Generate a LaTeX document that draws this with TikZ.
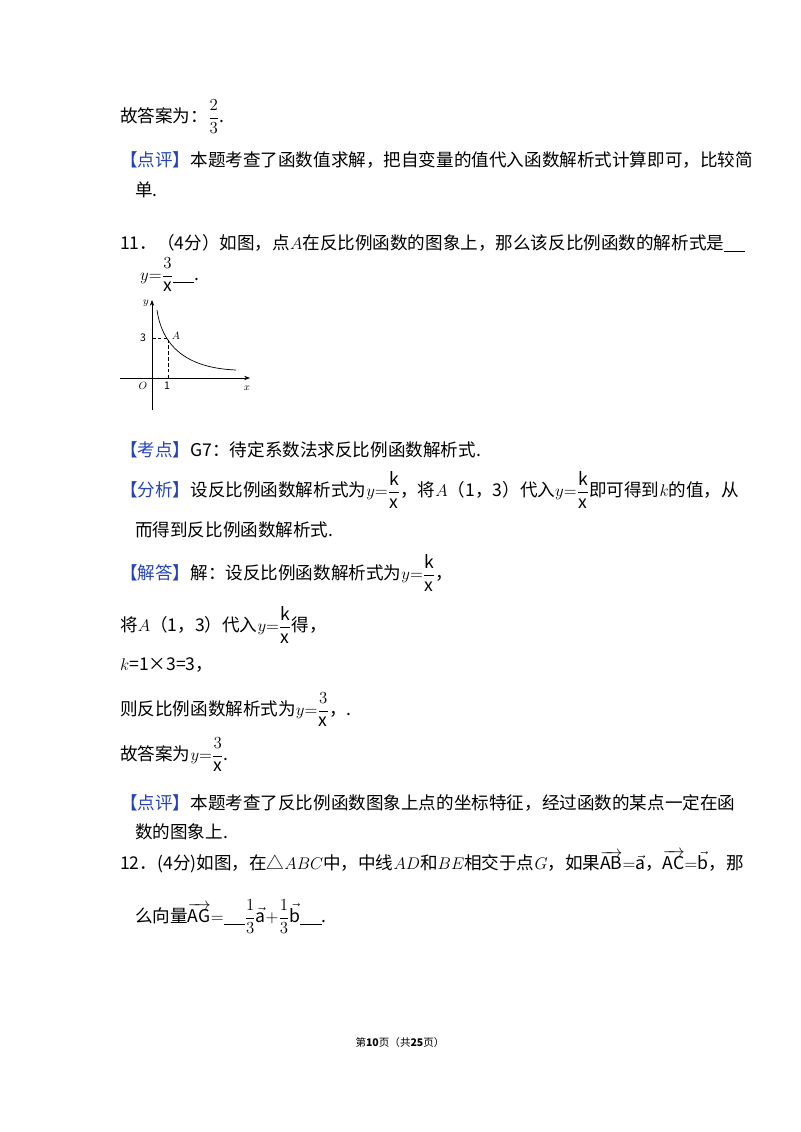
\documentclass[tikz,border=0pt]{standalone}
\usepackage{amsmath}
\usepackage{fontspec}
\setmainfont{Noto Sans CJK SC}
\usepackage{tikz}
\usetikzlibrary{positioning, arrows.meta}
\definecolor{tagblue}{HTML}{2443B8}
\newcommand{\tagb}[1]{\textcolor{tagblue}{【#1】}}
\newcommand{\blank}{\rule[-2pt]{18pt}{0.8pt}}
\tikzset{
  txt/.style={anchor=west, inner sep=0pt, font=\fontsize{15pt}{18pt}\selectfont},
  lab/.style={font=\small, inner sep=1pt},
  axis/.style={-{Stealth[length=5pt]}, line width=0.6pt},
  guide/.style={densely dashed, line width=0.5pt},
}
\begin{document}
\begin{tikzpicture}[x=0.03cm, y=-0.03cm]
\useasboundingbox (0,0) rectangle (800,1132);
% answer of 10
\node[txt] (l1) at (120,117) {故答案为：$\dfrac{2}{3}$.};
\node[txt] (l2) at (120,160) {\tagb{点评}本题考查了函数值求解，把自变量的值代入函数解析式计算即可，比较简};
\node[txt] (l3) at (135,190) {单.};
% question 11
\node[txt] (q11) at (120,243) {11．（4分）如图，点$A$在反比例函数的图象上，那么该反比例函数的解析式是\blank};
\node[txt] (a11) at (140,275) {$y{=}\dfrac{3}{\mathrm{x}}$\blank.};

% graph
\draw[axis] (120,378) -- (250,378);
\draw[axis] (152,410) -- (152,300);
\draw[line width=0.6pt] (157,310) .. controls (162,345) and (185,368) .. (236,370);
\draw[guide] (152,338) -- (168,338) -- (168,378);
\node[lab] (ylab) at (146,303) {$y$};
\node[lab] (xlab) at (247,388) {$x$};
\node[lab] (olab) at (143,386) {$O$};
\node[lab] (one) at (167,386) {1};
\node[lab] (three) at (143,338) {3};
\node[lab] (alab) at (176,336) {$A$};

% solution 11
\node[txt] (k1) at (120,450) {\tagb{考点}G7：待定系数法求反比例函数解析式.};
\node[txt] (f1) at (120,490) {\tagb{分析}设反比例函数解析式为$y{=}\dfrac{\mathrm{k}}{\mathrm{x}}$，将$A$（1，3）代入$y{=}\dfrac{\mathrm{k}}{\mathrm{x}}$即可得到$k$的值，从};
\node[txt] (f2) at (135,530) {而得到反比例函数解析式.};
\node[txt] (j1) at (120,573) {\tagb{解答}解：设反比例函数解析式为$y{=}\dfrac{\mathrm{k}}{\mathrm{x}}$，};
\node[txt] (j2) at (120,625) {将$A$（1，3）代入$y{=}\dfrac{\mathrm{k}}{\mathrm{x}}$得，};
\node[txt] (j3) at (120,665) {$k$=1×3=3，};
\node[txt] (j4) at (120,710) {则反比例函数解析式为$y{=}\dfrac{3}{\mathrm{x}}$，.};
\node[txt] (j5) at (120,755) {故答案为$y{=}\dfrac{3}{\mathrm{x}}$.};
\node[txt] (p1) at (120,803) {\tagb{点评}本题考查了反比例函数图象上点的坐标特征，经过函数的某点一定在函};
\node[txt] (p2) at (135,832) {数的图象上.};

% question 12
\node[txt] (q12) at (120,862) {12．(4分)如图，在△$ABC$中，中线$AD$和$BE$相交于点$G$，如果$\overrightarrow{\mathrm{AB}}{=}\vec{\mathrm{a}}$，$\overrightarrow{\mathrm{AC}}{=}\vec{\mathrm{b}}$，那};
\node[txt] (a12) at (135,917) {么向量$\overrightarrow{\mathrm{AG}}{=}$\blank$\dfrac{1}{3}\vec{\mathrm{a}}{+}\dfrac{1}{3}\vec{\mathrm{b}}$\blank.};

% footer
\node[font=\small] (foot) at (400,1042) {第\textbf{10}页（共\textbf{25}页）};
\end{tikzpicture}
\end{document}
